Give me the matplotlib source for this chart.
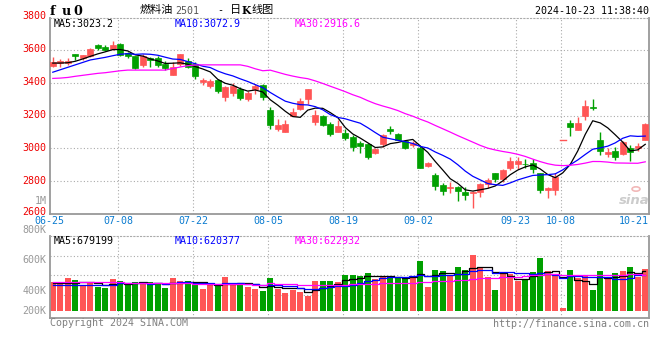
import numpy as np
import pandas as pd
import matplotlib
matplotlib.use('Agg')
import matplotlib.pyplot as plt
from matplotlib.patches import Rectangle

# ---------------- data ----------------
opens = [3501, 3521, 3519, 3574, 3550, 3562, 3630, 3619, 3607, 3636,
         3583, 3562, 3507, 3554, 3552, 3515, 3450, 3517, 3534, 3517,
         3405, 3378, 3419, 3311, 3335, 3362, 3304, 3362, 3384, 3231,
         3118, 3096, 3198, 3241, 3300, 3159, 3198, 3149, 3100, 3094,
         3067, 3032, 3028, 2971, 3026, 3118, 3088, 3041, 3020, 3004,
         2891, 2836, 2776, 2758, 2765, 2734, 2724, 2732, 2779, 2846,
         2814, 2877, 2902, 2904, 2908, 2846, 2744, 2744, 3049, 3153,
         3112, 3194, 3255, 3051, 2965, 2985, 2965, 3004, 3004, 3051]
highs = [3558, 3546, 3552, 3579, 3572, 3611, 3640, 3632, 3658, 3644,
         3589, 3566, 3579, 3558, 3566, 3531, 3527, 3579, 3552, 3525,
         3427, 3423, 3423, 3378, 3399, 3372, 3347, 3394, 3390, 3255,
         3178, 3174, 3245, 3306, 3364, 3235, 3204, 3161, 3174, 3116,
         3082, 3041, 3034, 3000, 3088, 3137, 3094, 3051, 3041, 3014,
         2916, 2846, 2789, 2795, 2769, 2765, 2740, 2785, 2816, 2846,
         2873, 2945, 2945, 2932, 2932, 2846, 2760, 2846, 3049, 3170,
         3190, 3296, 3302, 3096, 2998, 3006, 3045, 3020, 3034, 3153]
lows = [3495, 3495, 3507, 3542, 3542, 3560, 3599, 3593, 3603, 3562,
        3550, 3484, 3497, 3495, 3495, 3480, 3446, 3501, 3491, 3423,
        3388, 3368, 3337, 3286, 3317, 3292, 3286, 3331, 3296, 3118,
        3108, 3096, 3194, 3231, 3272, 3143, 3137, 3075, 3096, 3051,
        2985, 2973, 2932, 2965, 3006, 3084, 3047, 2994, 3006, 2881,
        2887, 2744, 2713, 2724, 2679, 2683, 2634, 2699, 2754, 2795,
        2795, 2867, 2871, 2877, 2846, 2724, 2693, 2713, 3049, 3075,
        3112, 3174, 3231, 2957, 2945, 2928, 2959, 2922, 2983, 3047]
closes = [3529, 3536, 3536, 3562, 3568, 3609, 3611, 3599, 3630, 3570,
          3566, 3491, 3562, 3542, 3509, 3489, 3499, 3574, 3497, 3439,
          3415, 3409, 3347, 3376, 3380, 3309, 3335, 3382, 3313, 3143,
          3143, 3149, 3219, 3290, 3364, 3204, 3143, 3088, 3137, 3061,
          3006, 3016, 2945, 2992, 3080, 3106, 3051, 3000, 3030, 2881,
          2910, 2771, 2740, 2762, 2738, 2713, 2734, 2779, 2805, 2812,
          2867, 2924, 2922, 2902, 2871, 2744, 2754, 2826, 3049, 3129,
          3157, 3261, 3243, 2983, 2977, 2945, 3037, 2975, 3014, 3147]
volumes_k = [503, 492, 566, 532, 429, 492, 412, 394, 549, 515,
             446, 492, 486, 492, 475, 394, 566, 515, 515, 475,
             377, 440, 434, 583, 480, 457, 412, 377, 343, 566,
             377, 309, 366, 326, 263, 515, 515, 515, 497, 617,
             617, 606, 652, 549, 606, 572, 572, 560, 572, 858,
             412, 703, 686, 606, 755, 703, 960, 755, 583, 360,
             640, 640, 515, 549, 669, 915, 686, 623, 51, 703,
             572, 623, 360, 686, 583, 652, 686, 755, 583, 720]

# moving-average values for the first days
# (their windows reach back before the first visible day)
ma5_head = [3521, 3521, 3523, 3532]
ma10_head = [3465, 3480, 3495, 3510, 3525, 3540, 3548, 3556, 3566]
ma30_head = [3427, 3429, 3433, 3440, 3446, 3452, 3458, 3462, 3468, 3474,
             3478, 3478, 3478, 3478, 3478, 3478, 3488, 3497, 3505, 3509,
             3510, 3510, 3510, 3510, 3510, 3510, 3501, 3486, 3474]
vma5_head = [486, 486, 486, 486]
vma10_head = [452, 452, 452, 452, 452, 452, 446, 446, 440]
vma30_head = [503, 503, 503, 503, 503, 503, 498, 492, 492, 492,
              486, 480, 475, 475, 475, 475, 475, 475, 475, 469,
              463, 457, 457, 457, 457, 457, 457, 452, 452]

tick_labels = ['06-25', '07-08', '07-22', '08-05', '08-19', '09-02', '09-23', '10-08', '10-21']
tick_index = [0, 9, 19, 29, 39, 49, 62, 68, 77]
price_ticks = [2600, 2800, 3000, 3200, 3400, 3600, 3800]
vol_tick_labels = ['1M', '800K', '600K', '400K', '200K']

title_parts = ['燃料油', '2501', '-', '日', 'K', '线图']
code_chars = ['f', 'u', '0']
timestamp = '2024-10-23 11:38:40'
ma_legend_price = ['MA5:3023.2', 'MA10:3072.9', 'MA30:2916.6']
ma_legend_vol = ['MA5:679199', 'MA10:620377', 'MA30:622932']

# ---------------- derived ----------------
def moving(values, n, head):
    s = pd.Series(values, dtype=float).rolling(n).mean().to_numpy()
    s[:len(head)] = head
    return s

ma5 = moving(closes, 5, ma5_head)
ma10 = moving(closes, 10, ma10_head)
ma30 = moving(closes, 30, ma30_head)
vma5 = moving(volumes_k, 5, vma5_head)
vma10 = moving(volumes_k, 10, vma10_head)
vma30 = moving(volumes_k, 30, vma30_head)

# ---------------- style ----------------
W, H = 660, 360
RED = '#FF5555'
GREEN = '#00A000'
GRID = '#aaaaaa'
SPINE = '#999999'
MONO = 'DejaVu Sans Mono'
CJK = ['Noto Sans CJK SC', 'DejaVu Sans']
MA_COLORS = ['black', '#0000FF', '#FF00FF']
FS = 7.2
DOT = (0, (1, 2))

fig = plt.figure(figsize=(W / 100, H / 100), dpi=100)
fig.patch.set_facecolor('white')

def ax_rect(x0, y0, x1, y1):
    return [x0 / W, 1 - y1 / H, (x1 - x0) / W, (y1 - y0) / H]

def ftext(x, y, s, **kw):
    kw.setdefault('va', 'center')
    fig.text(x / W, 1 - y / H, s, **kw)

n = len(closes)
idx = np.arange(n)
XL = (-0.37, 79.5)
GRID_SHIFT = -0.3   # vertical grid lines sit just left of the candle slot centre

ax = fig.add_axes(ax_rect(50, 17.5, 649, 213.5))
axv = fig.add_axes(ax_rect(50, 236, 649, 318))

for a in (ax, axv):
    a.set_xlim(*XL)
    a.set_facecolor('white')
    for side in ('left', 'bottom', 'right'):
        a.spines[side].set_color(SPINE)
        a.spines[side].set_linewidth(1.3)
    a.spines['top'].set_color(GRID)
    a.spines['top'].set_linewidth(0.8)
    a.spines['top'].set_linestyle(DOT)
    a.tick_params(left=False, bottom=False, labelleft=False, labelbottom=False)
    for ti in tick_index[1:-1]:
        a.axvline(ti + GRID_SHIFT, color=GRID, lw=0.8, ls=DOT, zorder=0)

# ---- price panel ----
ax.set_ylim(2600, 3800)
for p in price_ticks[1:-1]:
    ax.axhline(p, color=GRID, lw=0.8, ls=DOT, zorder=0)

bw = 0.74
for i in range(n):
    o, h, l, c = opens[i], highs[i], lows[i], closes[i]
    col = RED if c >= o else GREEN
    ax.plot([i, i], [l, h], color=col, lw=1.0, solid_capstyle='butt', zorder=2)
    if abs(c - o) < 1e-9:
        ax.plot([i - bw / 2, i + bw / 2], [o, o], color=col, lw=1.0, zorder=3)
    else:
        ax.add_patch(Rectangle((i - bw / 2, min(o, c)), bw, abs(c - o),
                               facecolor=col, edgecolor=col, lw=0.5, zorder=3))

for m, col in zip((ma5, ma10, ma30), MA_COLORS):
    ax.plot(idx, m, color=col, lw=0.9, zorder=4)

# ---- volume panel ----
axv.set_ylim(-120, 1286)
for yv in (943, 617, 274):
    axv.axhline(yv, color=GRID, lw=0.8, ls=DOT, zorder=0)
vcols = [RED if closes[i] >= opens[i] else GREEN for i in range(n)]
axv.bar(idx, volumes_k, width=0.8, color=vcols, zorder=2)
for m, col in zip((vma5, vma10, vma30), MA_COLORS):
    axv.plot(idx, m, color=col, lw=0.9, drawstyle='steps-mid', zorder=4)

# ---------------- texts ----------------
price_label_y = {3800: 16, 3600: 49, 3400: 82, 3200: 115, 3000: 148, 2800: 181, 2600: 212}
for p in price_ticks:
    ftext(46.5, price_label_y[p], str(p), ha='right', color='#EE0000', family=MONO, fontsize=FS)
for lab, y in zip(vol_tick_labels, [201, 230.5, 260, 290.5, 310.5]):
    ftext(46.5, y, lab, ha='right', color='#999999', family=MONO, fontsize=FS)

for lab, ti in zip(tick_labels, tick_index):
    if ti == tick_index[-1]:
        ftext(649, 221.5, lab, ha='right', color='#0A7BD0', family=MONO, fontsize=FS)
    elif ti == 0:
        ftext(49.5, 221.5, lab, ha='center', color='#0A7BD0', family=MONO, fontsize=FS)
    else:
        xpix = 50 + (ti + GRID_SHIFT - XL[0]) / (XL[1] - XL[0]) * 599
        ftext(xpix, 221.5, lab, ha='center', color='#0A7BD0', family=MONO, fontsize=FS)

# header: code, title, timestamp
for ch, x in zip(code_chars, (52, 66, 78)):
    ftext(x, 11.3, ch, ha='center', color='black', family='DejaVu Serif', fontsize=9.2, weight='bold')
ftext(140, 10, title_parts[0], ha='left', color='black', family=CJK, fontsize=8.0)
ftext(175, 10.8, title_parts[1], ha='left', color='#555555', family=MONO, fontsize=FS)
ftext(220.5, 10, title_parts[2], ha='center', color='black', family=MONO, fontsize=FS)
ftext(230, 10, title_parts[3], ha='left', color='black', family=CJK, fontsize=8.0)
ftext(246.5, 10.5, title_parts[4], ha='center', color='black', family='DejaVu Serif', fontsize=7.6, weight='bold')
ftext(252, 10, title_parts[5], ha='left', color='black', family=CJK, fontsize=8.0)
ftext(649, 11.5, timestamp, ha='right', color='black', family=MONO, fontsize=FS)

for s, col, x in zip(ma_legend_price, MA_COLORS, (54, 175, 295)):
    ftext(x, 24, s, ha='left', color=col, family=MONO, fontsize=FS)
for s, col, x in zip(ma_legend_vol, MA_COLORS, (54, 175, 295)):
    ftext(x, 241.5, s, ha='left', color=col, family=MONO, fontsize=FS)

ftext(50, 323.5, 'Copyright 2024 SINA.COM', ha='left', color='#808080', family=MONO, fontsize=FS)
ftext(649, 324, 'http://finance.sina.com.cn', ha='right', color='#808080', family=MONO, fontsize=FS)

ftext(634, 200, 'sina', ha='center', color='#cccccc', family='DejaVu Sans', fontsize=9.5,
      weight='bold', style='italic')
fig.add_artist(plt.Circle((636 / W, 1 - 189 / H), 0.006, transform=fig.transFigure,
                          facecolor='none', edgecolor='#f2b8b8', lw=1.2))

fig.savefig('out.png', dpi=100, facecolor='white')
